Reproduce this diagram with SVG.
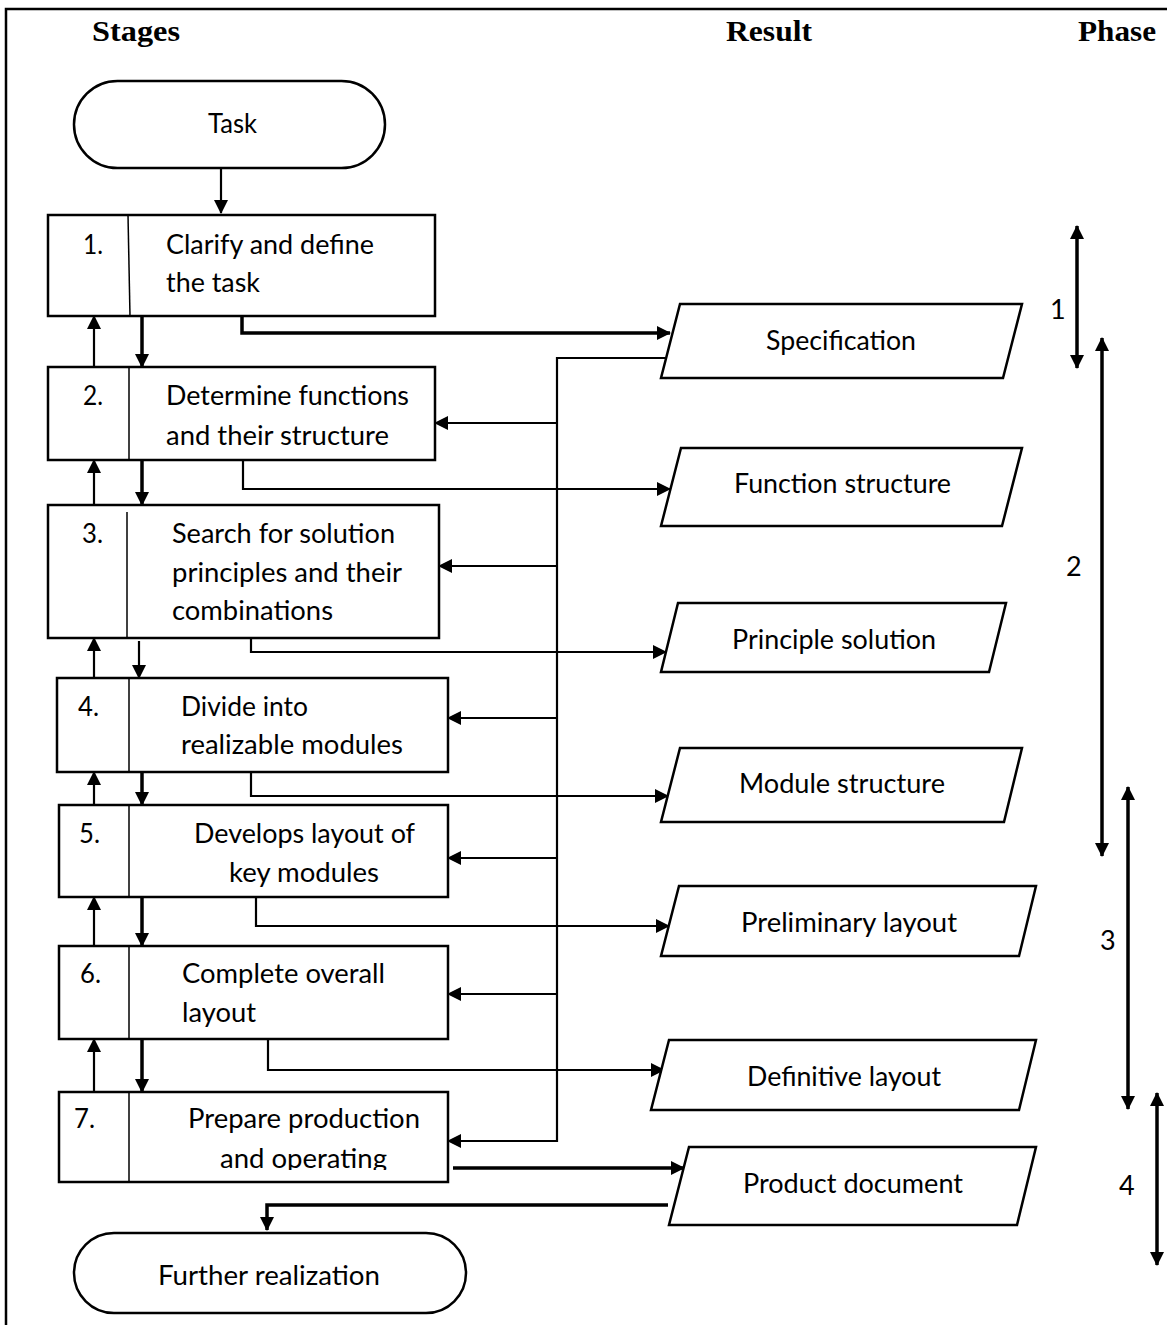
<svg xmlns="http://www.w3.org/2000/svg" width="1167" height="1325" viewBox="0 0 1167 1325">
<style>
.shape{fill:#fff;stroke:#000;stroke-width:2.5}
.div{stroke:#000;stroke-width:1.5;fill:none}
.t{font-family:Lato,"Liberation Sans",sans-serif;font-size:27px;fill:#000}
.h{font-family:"Liberation Serif",serif;font-size:30px;font-weight:bold;fill:#000}
.c{fill:none;stroke:#000;stroke-width:2.2}
.k{fill:none;stroke:#000;stroke-width:3.5}
.border{stroke:#000;stroke-width:2.5;fill:none}
</style>
<defs>
<marker id="a" markerUnits="userSpaceOnUse" markerWidth="14" markerHeight="14" refX="13" refY="7" orient="auto-start-reverse" viewBox="0 0 14 14">
<path d="M0,0 L14,7 L0,14 z" fill="#000"/>
</marker>
<clipPath id="clip7"><rect x="40" y="1085" width="420" height="85"/></clipPath>
</defs>
<rect width="1167" height="1325" fill="#fff"/>
<path class="border" d="M6,1325 V9 H1167"/>
<g id="headers">
<text class="h" x="92" y="41" textLength="88" lengthAdjust="spacingAndGlyphs">Stages</text>
<text class="h" x="726" y="41" textLength="86" lengthAdjust="spacingAndGlyphs">Result</text>
<text class="h" x="1078" y="41" textLength="78" lengthAdjust="spacingAndGlyphs">Phase</text>
</g>
<g id="connectors">
<path class="c" d="M221,168 V213" marker-end="url(#a)"/>
<path class="k" d="M142,316 V367" marker-end="url(#a)"/>
<path class="k" d="M142,460 V505" marker-end="url(#a)"/>
<path class="c" d="M139,641 V678" marker-end="url(#a)"/>
<path class="k" d="M142,772 V805" marker-end="url(#a)"/>
<path class="k" d="M142,897 V946" marker-end="url(#a)"/>
<path class="k" d="M142,1039 V1092" marker-end="url(#a)"/>
<path class="c" d="M94,367 V316" marker-end="url(#a)"/>
<path class="c" d="M94,505 V460" marker-end="url(#a)"/>
<path class="c" d="M94,678 V638" marker-end="url(#a)"/>
<path class="c" d="M94,805 V772" marker-end="url(#a)"/>
<path class="c" d="M94,946 V897" marker-end="url(#a)"/>
<path class="c" d="M94,1092 V1039" marker-end="url(#a)"/>
<path class="k" d="M242,316 V333 H670" marker-end="url(#a)"/>
<path class="c" d="M666,358 H557 V1141 H448" marker-end="url(#a)"/>
<path class="c" d="M557,423 H435" marker-end="url(#a)"/>
<path class="c" d="M557,566 H439" marker-end="url(#a)"/>
<path class="c" d="M557,718 H448" marker-end="url(#a)"/>
<path class="c" d="M557,858 H448" marker-end="url(#a)"/>
<path class="c" d="M557,994 H448" marker-end="url(#a)"/>
<path class="c" d="M243,460 V489 H670" marker-end="url(#a)"/>
<path class="c" d="M251,638 V652 H666" marker-end="url(#a)"/>
<path class="c" d="M251,772 V796 H668" marker-end="url(#a)"/>
<path class="c" d="M256,897 V926 H669" marker-end="url(#a)"/>
<path class="c" d="M268,1039 V1070 H664" marker-end="url(#a)"/>
<path class="k" d="M453,1168 H684" marker-end="url(#a)"/>
<path class="k" d="M668,1205 H267 V1230" marker-end="url(#a)"/>
<path class="k" d="M1077,226 V368" marker-start="url(#a)" marker-end="url(#a)"/>
<path class="k" d="M1102,338 V856" marker-start="url(#a)" marker-end="url(#a)"/>
<path class="k" d="M1128,787 V1109" marker-start="url(#a)" marker-end="url(#a)"/>
<path class="k" d="M1157,1093 V1265" marker-start="url(#a)" marker-end="url(#a)"/>
</g>
<g id="task">
<rect class="shape" x="74" y="81" width="311" height="87" rx="43.5" ry="43.5"/>
<text class="t" x="208" y="133" textLength="49" lengthAdjust="spacingAndGlyphs">Task</text>
</g>
<g id="stage1">
<rect class="shape" x="48" y="215" width="387" height="101"/>
<path class="div" d="M128,215 L130,316"/>
<text class="t" x="83" y="254" textLength="20" lengthAdjust="spacingAndGlyphs">1.</text>
<text class="t" x="166" y="254" textLength="208" lengthAdjust="spacingAndGlyphs">Clarify and define</text>
<text class="t" x="166" y="292" textLength="94" lengthAdjust="spacingAndGlyphs">the task</text>
</g>
<g id="stage2">
<rect class="shape" x="48" y="367" width="387" height="93"/>
<path class="div" d="M129,367 V460"/>
<text class="t" x="83" y="405" textLength="20" lengthAdjust="spacingAndGlyphs">2.</text>
<text class="t" x="166" y="405" textLength="243" lengthAdjust="spacingAndGlyphs">Determine functions</text>
<text class="t" x="166" y="445" textLength="223" lengthAdjust="spacingAndGlyphs">and their structure</text>
</g>
<g id="stage3">
<rect class="shape" x="48" y="505" width="391" height="133"/>
<path class="div" d="M127,512 V638"/>
<text class="t" x="82" y="543" textLength="21" lengthAdjust="spacingAndGlyphs">3.</text>
<text class="t" x="172" y="543" textLength="223" lengthAdjust="spacingAndGlyphs">Search for solution</text>
<text class="t" x="172" y="582" textLength="230" lengthAdjust="spacingAndGlyphs">principles and their</text>
<text class="t" x="172" y="620" textLength="161" lengthAdjust="spacingAndGlyphs">combinations</text>
</g>
<g id="stage4">
<rect class="shape" x="57" y="678" width="391" height="94"/>
<path class="div" d="M129,678 V772"/>
<text class="t" x="78" y="716" textLength="21" lengthAdjust="spacingAndGlyphs">4.</text>
<text class="t" x="181" y="716" textLength="127" lengthAdjust="spacingAndGlyphs">Divide into</text>
<text class="t" x="181" y="754" textLength="222" lengthAdjust="spacingAndGlyphs">realizable modules</text>
</g>
<g id="stage5">
<rect class="shape" x="59" y="805" width="389" height="92"/>
<path class="div" d="M129,805 V897"/>
<text class="t" x="79" y="843" textLength="21" lengthAdjust="spacingAndGlyphs">5.</text>
<text class="t" x="194" y="843" textLength="221" lengthAdjust="spacingAndGlyphs">Develops layout of</text>
<text class="t" x="229" y="882" textLength="150" lengthAdjust="spacingAndGlyphs">key modules</text>
</g>
<g id="stage6">
<rect class="shape" x="59" y="946" width="389" height="93"/>
<path class="div" d="M129,946 V1039"/>
<text class="t" x="80" y="983" textLength="21" lengthAdjust="spacingAndGlyphs">6.</text>
<text class="t" x="182" y="983" textLength="203" lengthAdjust="spacingAndGlyphs">Complete overall</text>
<text class="t" x="182" y="1022" textLength="74" lengthAdjust="spacingAndGlyphs">layout</text>
</g>
<g id="stage7">
<rect class="shape" x="59" y="1092" width="389" height="90"/>
<path class="div" d="M129,1092 V1182"/>
<text class="t" x="74" y="1128" textLength="21" lengthAdjust="spacingAndGlyphs">7.</text>
<text class="t" x="188" y="1128" textLength="232" lengthAdjust="spacingAndGlyphs">Prepare production</text>
<text class="t" x="220" y="1168" textLength="167" lengthAdjust="spacingAndGlyphs" clip-path="url(#clip7)">and operating</text>
</g>
<g id="further">
<rect class="shape" x="74" y="1233" width="392" height="80" rx="40" ry="40"/>
<text class="t" x="158" y="1285" textLength="222" lengthAdjust="spacingAndGlyphs">Further realization</text>
</g>
<g id="specification">
<polygon class="shape" points="680,304 1022,304 1003,378 661,378"/>
<text class="t" x="766" y="350" textLength="150" lengthAdjust="spacingAndGlyphs">Specification</text>
</g>
<g id="function-structure">
<polygon class="shape" points="681,448 1022,448 1002,526 661,526"/>
<text class="t" x="734" y="493" textLength="217" lengthAdjust="spacingAndGlyphs">Function structure</text>
</g>
<g id="principle-solution">
<polygon class="shape" points="678,603 1006,603 989,672 661,672"/>
<text class="t" x="732" y="649" textLength="204" lengthAdjust="spacingAndGlyphs">Principle solution</text>
</g>
<g id="module-structure">
<polygon class="shape" points="680,748 1022,748 1004,822 661,822"/>
<text class="t" x="739" y="793" textLength="206" lengthAdjust="spacingAndGlyphs">Module structure</text>
</g>
<g id="preliminary-layout">
<polygon class="shape" points="679,886 1036,886 1019,956 661,956"/>
<text class="t" x="741" y="932" textLength="216" lengthAdjust="spacingAndGlyphs">Preliminary layout</text>
</g>
<g id="definitive-layout">
<polygon class="shape" points="669,1040 1036,1040 1019,1110 651,1110"/>
<text class="t" x="747" y="1086" textLength="194" lengthAdjust="spacingAndGlyphs">Definitive layout</text>
</g>
<g id="product-document">
<polygon class="shape" points="689,1147 1036,1147 1017,1225 669,1225"/>
<text class="t" x="743" y="1193" textLength="220" lengthAdjust="spacingAndGlyphs">Product document</text>
</g>
<g id="phases">
<text class="t" x="1050" y="319">1</text>
<text class="t" x="1066" y="576">2</text>
<text class="t" x="1100" y="950">3</text>
<text class="t" x="1119" y="1195">4</text>
</g>
</svg>
